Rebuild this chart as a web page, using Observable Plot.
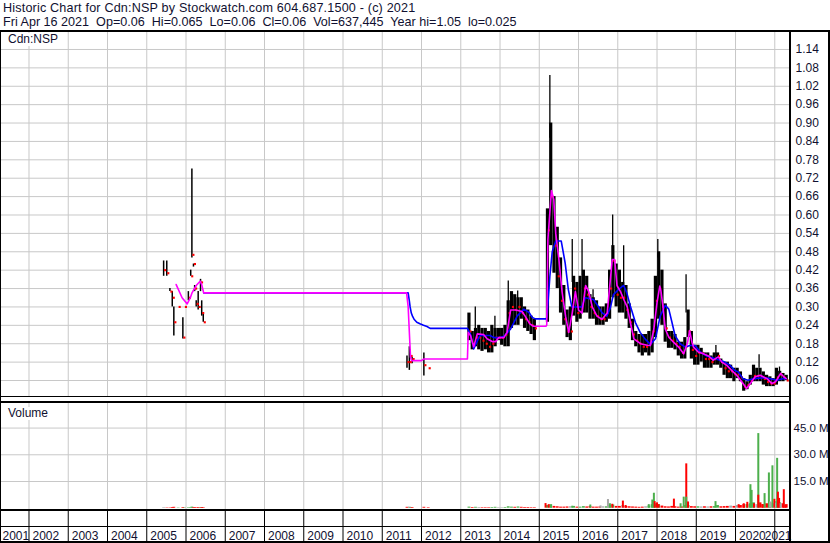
<!DOCTYPE html>
<html>
<head>
<meta charset="utf-8">
<script src="https://cdn.jsdelivr.net/npm/d3@7"></script>
<script src="https://cdn.jsdelivr.net/npm/@observablehq/plot@0.6"></script>
<style>
  html, body { margin: 0; padding: 0; background: #fff; }
  #chart { position: relative; width: 830px; height: 543px; overflow: hidden; background: #fff;
           font-family: Arial, "Liberation Sans", sans-serif; color: #101030; }
  .hdr { position: absolute; left: 3px; font-size: 12.6px; line-height: 14px; white-space: pre; }
  .ln { position: absolute; background: #000; }
  .lbl { position: absolute; font-size: 12px; line-height: 12px; background: #fff; padding: 0 3px 1px 4px; white-space: pre; }
</style>
</head>
<body>
<div id="chart"></div>
<script>
// ---------------- texts ----------------
const titleLine = "Historic Chart for Cdn:NSP by Stockwatch.com 604.687.1500 - (c) 2021";
const infoLine = "Fri Apr 16 2021  Op=0.06  Hi=0.065  Lo=0.06  Cl=0.06  Vol=637,445  Year hi=1.05  lo=0.025";
const symbolLabel = "Cdn:NSP";
const volumeLabel = "Volume";

// ---------------- axes ----------------
const priceTicks = [0.06,0.12,0.18,0.24,0.30,0.36,0.42,0.48,0.54,0.60,0.66,0.72,0.78,0.84,0.90,0.96,1.02,1.08,1.14];
const volumeTicks = [15, 30, 45]; // millions
const yearLabels = [2001,2002,2003,2004,2005,2006,2007,2008,2009,2010,2011,2012,2013,2014,2015,2016,2017,2018,2019,2020,2021];
const startYear = 2001.274, endYear = 2021.375; // visible date span (decimal years)

// ---------------- sparse trades (2005-2006, 2011-2012), decimal years ----------------
const sparseT     = [2005.43,2005.51,2005.59,2005.65,2005.69,2005.80,2005.92,2005.96,2006.06,2006.12,2006.15,2006.19,2006.22,2006.26,2006.31,2006.37,2006.40,2006.44, 2011.63,2011.69,2011.71,2011.76,2012.06,2012.17];
const sparseHi    = [0.45,0.45,0.36,0.35,0.30,0.30,0.265,0.30,0.35,0.42,0.75,0.44,0.37,0.32,0.35,0.39,0.32,0.28, 0.14,0.17,0.16,0.136,0.15,0.10];
const sparseLo    = [0.40,0.40,0.35,0.30,0.205,0.30,0.195,0.30,0.32,0.40,0.46,0.43,0.35,0.30,0.29,0.35,0.27,0.25, 0.10,0.093,0.14,0.115,0.075,0.10];
const sparseClose = [0.42,0.41,0.35,0.33,0.25,0.30,0.20,0.30,0.33,0.40,0.47,0.44,0.36,0.31,0.30,0.38,0.28,0.25, 0.12,0.12,0.14,0.13,0.11,0.10];
const sparseVol   = [0.3,0.2,0.2,0.4,0.5,0.2,0.4,0.2,0.3,0.3,0.6,0.3,0.3,0.2,0.4,0.3,0.4,0.3, 0.5,0.6,0.3,0.4,0.5,0.3];

// ---------------- monthly trading ranges 2013-2021 ----------------
const months = [
 "2013-03","2013-04","2013-05","2013-06","2013-07","2013-08","2013-09","2013-10","2013-11","2013-12",
 "2014-01","2014-02","2014-03","2014-04","2014-05","2014-06","2014-07","2014-08","2014-09","2014-10","2014-11",
 "2015-03","2015-04","2015-05","2015-06","2015-07","2015-08","2015-09","2015-10","2015-11","2015-12",
 "2016-01","2016-02","2016-03","2016-04","2016-05","2016-06","2016-07","2016-08","2016-09","2016-10","2016-11","2016-12",
 "2017-01","2017-02","2017-03","2017-04","2017-05","2017-06","2017-07","2017-08","2017-09","2017-10","2017-11","2017-12",
 "2018-01","2018-02","2018-03","2018-04","2018-05","2018-06","2018-07","2018-08","2018-09","2018-10","2018-11","2018-12",
 "2019-01","2019-02","2019-03","2019-04","2019-05","2019-06","2019-07","2019-08","2019-09","2019-10","2019-11","2019-12",
 "2020-01","2020-02","2020-03","2020-04","2020-05","2020-06","2020-07","2020-08","2020-09","2020-10","2020-11","2020-12",
 "2021-01","2021-02","2021-03","2021-04"];
const monthHi = [
 0.28,0.22,0.23,0.24,0.23,0.23,0.22,0.24,0.23,0.23,
 0.23,0.24,0.32,0.35,0.34,0.33,0.33,0.30,0.29,0.27,0.26,
 0.62,0.90,0.66,0.56,0.46,0.37,0.29,0.30,0.40,0.38,
 0.40,0.42,0.40,0.34,0.33,0.32,0.30,0.30,0.31,0.42,0.50,0.44,
 0.42,0.38,0.37,0.31,0.26,0.22,0.21,0.21,0.21,0.22,0.26,0.40,
 0.48,0.42,0.31,0.22,0.22,0.21,0.185,0.185,0.20,0.29,0.22,0.175,
 0.175,0.165,0.15,0.15,0.14,0.15,0.15,0.13,0.12,0.12,0.11,0.10,
 0.10,0.088,0.066,0.056,0.077,0.11,0.10,0.10,0.088,0.077,0.072,0.066,
 0.10,0.09,0.083,0.077];
const monthLo = [
 0.19,0.16,0.17,0.16,0.155,0.16,0.15,0.15,0.17,0.19,
 0.175,0.17,0.17,0.23,0.24,0.24,0.26,0.23,0.22,0.21,0.19,
 0.25,0.50,0.41,0.36,0.28,0.24,0.20,0.19,0.27,0.25,
 0.26,0.28,0.28,0.26,0.26,0.24,0.24,0.24,0.25,0.26,0.33,0.30,
 0.28,0.28,0.26,0.23,0.19,0.17,0.15,0.14,0.15,0.14,0.15,0.20,
 0.26,0.24,0.185,0.165,0.165,0.16,0.14,0.13,0.13,0.20,0.13,0.11,
 0.11,0.12,0.10,0.10,0.10,0.11,0.11,0.10,0.077,0.066,0.066,0.056,
 0.066,0.056,0.025,0.03,0.045,0.056,0.056,0.056,0.045,0.04,0.04,0.04,
 0.045,0.056,0.056,0.06];
const monthClose = [
 0.22,0.17,0.20,0.20,0.19,0.18,0.17,0.18,0.20,0.20,
 0.20,0.21,0.28,0.30,0.29,0.30,0.28,0.26,0.25,0.24,0.23,
 0.55,0.66,0.50,0.40,0.32,0.26,0.22,0.22,0.36,0.28,
 0.30,0.36,0.34,0.30,0.28,0.27,0.26,0.26,0.28,0.36,0.45,0.34,
 0.33,0.33,0.29,0.25,0.21,0.19,0.18,0.17,0.17,0.18,0.22,0.32,
 0.36,0.30,0.23,0.20,0.19,0.18,0.17,0.15,0.17,0.22,0.16,0.14,
 0.15,0.15,0.13,0.13,0.12,0.13,0.14,0.12,0.10,0.09,0.09,0.08,
 0.08,0.07,0.04,0.045,0.06,0.075,0.075,0.07,0.065,0.055,0.05,0.05,
 0.07,0.08,0.07,0.06];
const monthVol = [ // millions
 0.6,0.4,0.5,0.4,0.3,0.3,0.3,0.4,0.5,0.3,
 0.3,0.4,0.8,0.6,0.5,0.7,0.5,0.4,0.4,0.3,0.3,
 1.5,2.0,1.0,0.8,0.6,0.6,0.7,0.8,1.0,0.6,
 0.6,0.9,0.7,1.0,0.6,0.6,0.7,0.8,0.8,1.5,1.8,1.0,
 1.0,1.5,1.0,0.8,0.7,0.6,0.5,0.6,0.8,1.2,2.0,2.5,
 2.0,1.2,0.8,0.7,1.0,0.8,0.6,0.7,1.5,1.5,0.9,0.8,
 0.8,0.7,0.8,0.7,0.8,0.9,1.5,0.8,0.9,1.0,1.2,1.0,
 1.5,1.5,2.0,2.0,2.5,3.0,2.0,3.0,2.0,2.5,3.0,2.5,
 3.5,3.0,2.5,2.0];

// single-day spikes above the monthly ranges
const spikeT  = [2013.37,2013.87,2014.21,2014.45,2015.27,2015.84,2016.09,2016.37,2016.87,2017.15,2018.02,2018.74,2019.50,2020.60,2021.12];
const spikeLo = [0.22,0.22,0.30,0.32,0.85,0.38,0.40,0.30,0.48,0.36,0.46,0.28,0.14,0.10,0.08];
const spikeHi = [0.30,0.27,0.385,0.352,1.055,0.52,0.52,0.356,0.60,0.50,0.52,0.405,0.174,0.144,0.104];

// volume spikes (millions) and their colour class
const volSpikeT = [2015.16,2015.24,2015.30,2015.84,2016.30,2016.56,2016.75,2016.80,2016.86,2017.13,2017.20,2017.79,2017.88,2017.92,2017.94,2018.00,2018.04,2018.43,2018.60,2018.68,2018.745,2018.745,2018.79,2019.49,2020.08,2020.21,2020.30,2020.38,2020.41,2020.47,2020.58,2020.58,2020.68,2020.74,2020.85,2020.88,2020.94,2020.99,2021.03,2021.06,2021.08,2021.11,2021.15,2021.23,2021.27];
const volSpikeV = [2.6,2.0,1.2,1.1,1.8,1.3,4.9,2.5,2.2,4.0,1.5,2.0,4.6,8.4,3.7,3.0,2.0,5.1,2.5,6.2,24.9,6.2,3.5,3.7,2.0,2.5,3.3,13.2,10.0,2.5,41.9,7.3,2.0,8.2,19.8,3.5,23.8,5.0,3.0,28.0,9.0,5.5,2.5,10.4,1.5];
const volSpikeKind = ["down","down","up","up","up","flat","flat","up","down","down","down","up","up","up","down","down","down","down","up","up","down","up","down","up","down","down","down","up","up","down","up","down","down","up","up","flat","up","down","flat","up","down","down","flat","down","down"];

// moving averages [decimal year, price]
const maFast = [[2005.75,0.373],[2005.90,0.33],[2006.03,0.31],[2006.11,0.33],[2006.15,0.345],[2006.26,0.37],[2006.36,0.384],[2006.40,0.373],[2006.45,0.346],[2011.62,0.346],[2011.66,0.30],[2011.72,0.136],[2011.75,0.125],[2012.0,0.125],[2012.05,0.13],[2013.17,0.13],[2013.19,0.217],[2013.25,0.206],[2013.33,0.17],[2013.42,0.212],[2013.58,0.21],[2013.67,0.196],[2013.8,0.187],[2013.89,0.187],[2013.97,0.2],[2014.1,0.2],[2014.18,0.217],[2014.27,0.29],[2014.4,0.29],[2014.56,0.285],[2014.64,0.27],[2014.76,0.245],[2014.85,0.237],[2015.17,0.237],[2015.19,0.24],[2015.22,0.52],[2015.31,0.68],[2015.37,0.65],[2015.42,0.54],[2015.5,0.455],[2015.58,0.35],[2015.67,0.27],[2015.75,0.217],[2015.84,0.28],[2015.92,0.35],[2016.0,0.29],[2016.09,0.28],[2016.18,0.37],[2016.26,0.35],[2016.35,0.30],[2016.47,0.27],[2016.6,0.26],[2016.73,0.28],[2016.86,0.455],[2016.92,0.455],[2016.98,0.37],[2017.07,0.35],[2017.15,0.325],[2017.24,0.30],[2017.32,0.25],[2017.41,0.196],[2017.58,0.18],[2017.75,0.175],[2017.83,0.174],[2017.92,0.228],[2018.0,0.314],[2018.07,0.368],[2018.1,0.352],[2018.15,0.303],[2018.21,0.228],[2018.3,0.201],[2018.42,0.185],[2018.55,0.169],[2018.68,0.147],[2018.78,0.185],[2018.83,0.223],[2018.89,0.185],[2018.93,0.169],[2019.05,0.153],[2019.18,0.147],[2019.31,0.14],[2019.43,0.126],[2019.56,0.137],[2019.65,0.12],[2019.77,0.11],[2019.9,0.093],[2020.03,0.077],[2020.16,0.056],[2020.28,0.034],[2020.41,0.056],[2020.5,0.072],[2020.63,0.077],[2020.8,0.066],[2020.93,0.05],[2021.02,0.056],[2021.15,0.083],[2021.23,0.072],[2021.29,0.066]];
const maSlow = [[2006.45,0.346],[2011.66,0.346],[2011.69,0.32],[2011.71,0.30],[2011.74,0.28],[2011.77,0.27],[2011.81,0.26],[2011.88,0.25],[2011.96,0.245],[2012.05,0.24],[2012.14,0.236],[2012.22,0.23],[2013.17,0.23],[2013.25,0.21],[2013.33,0.163],[2013.46,0.2],[2013.5,0.207],[2013.75,0.207],[2013.84,0.2],[2014.0,0.2],[2014.1,0.204],[2014.27,0.228],[2014.44,0.271],[2014.61,0.293],[2014.74,0.282],[2014.82,0.266],[2014.9,0.261],[2015.18,0.261],[2015.2,0.27],[2015.27,0.40],[2015.33,0.48],[2015.42,0.515],[2015.56,0.515],[2015.66,0.443],[2015.74,0.357],[2015.83,0.30],[2016.08,0.30],[2016.17,0.33],[2016.38,0.324],[2016.47,0.308],[2016.6,0.281],[2016.72,0.27],[2016.81,0.297],[2016.89,0.34],[2017.02,0.357],[2017.15,0.37],[2017.23,0.346],[2017.32,0.303],[2017.45,0.249],[2017.57,0.217],[2017.7,0.195],[2017.83,0.178],[2017.96,0.196],[2018.08,0.27],[2018.21,0.305],[2018.3,0.293],[2018.38,0.25],[2018.46,0.206],[2018.59,0.18],[2018.72,0.169],[2018.84,0.174],[2018.97,0.174],[2019.1,0.153],[2019.27,0.14],[2019.48,0.131],[2019.6,0.126],[2019.73,0.12],[2019.86,0.11],[2019.98,0.093],[2020.07,0.088],[2020.19,0.066],[2020.32,0.061],[2020.45,0.066],[2020.72,0.069],[2020.89,0.066],[2021.06,0.061],[2021.19,0.066],[2021.29,0.066]];

// ---------------- build tables ----------------
const monthT = months.map(s => { const [y, m] = s.split("-").map(Number); return y + (m - 0.5) / 12; });
const sparseBars = sparseT.map((t, i) => ({t, hi: sparseHi[i], lo: sparseLo[i], cl: sparseClose[i], v: sparseVol[i]}));
const monthBars = monthT.map((t, i) => ({t, hi: monthHi[i], lo: monthLo[i], cl: monthClose[i], v: monthVol[i]}));
const allBars = sparseBars.concat(monthBars);
allBars.forEach((d, i) => {
  const prev = i > 0 ? allBars[i - 1].cl : d.cl;
  d.kind = d.cl > prev ? "up" : d.cl < prev ? "down" : "flat";
});
const spikes = spikeT.map((t, i) => ({t, lo: spikeLo[i], hi: spikeHi[i]}));
const volSpikes = volSpikeT.map((t, i) => ({t, v: volSpikeV[i], kind: volSpikeKind[i]}));
const yearTicks = yearLabels.filter(y => y > startYear && y < endYear);
const kindColor = {up: "#4caf4c", down: "#ff0000", flat: "#a8a8a8"};

const FONT = "Arial, 'Liberation Sans', sans-serif";
const TXT = "#101030";
const GRID = "#c8c8c8";
const baseStyle = {background: "transparent", fontFamily: FONT, fontSize: "12px", color: TXT, overflow: "visible"};
const priceDomain = [0.0078, 1.1954];
const volDomain = [-0.73, 58.8];

const chart = document.getElementById("chart");
function place(el, top) {
  el.style.position = "absolute";
  el.style.left = "0px";
  el.style.top = top + "px";
  chart.appendChild(el);
  return el;
}
function text(cls, css, s) {
  const d = document.createElement("div");
  d.className = cls; d.textContent = s; Object.assign(d.style, css);
  chart.appendChild(d); return d;
}

text("hdr", {top: "1px", letterSpacing: "0.18px"}, titleLine);
text("hdr", {top: "15px"}, infoLine);

// ---------------- price panel ----------------
const pricePlot = Plot.plot({
  width: 830, height: 364,
  marginTop: 0, marginBottom: 0, marginLeft: 0, marginRight: 41,
  style: baseStyle,
  x: {type: "linear", domain: [startYear, endYear], axis: null},
  y: {type: "linear", domain: priceDomain},
  marks: [
    Plot.ruleX(yearTicks, {x: d => d, y1: priceDomain[0], y2: priceDomain[1], stroke: GRID, strokeWidth: 1}),
    Plot.ruleY(priceTicks, {y: d => d, x1: startYear, x2: endYear, stroke: GRID, strokeWidth: 1}),
    Plot.ruleX(monthBars, {x: "t", y1: "lo", y2: "hi", stroke: "#000", strokeWidth: 3.2}),
    Plot.ruleX(spikes, {x: "t", y1: "lo", y2: "hi", stroke: "#000", strokeWidth: 1.3}),
    Plot.ruleX(sparseBars, {x: "t", y1: "lo", y2: "hi", stroke: "#000", strokeWidth: 1.5}),
    Plot.dot(allBars, {x: "t", y: "cl", dx: 1.5, symbol: "square", r: 1.2, fill: "#ff0000", stroke: null}),
    Plot.line(maSlow, {x: d => d[0], y: d => d[1], stroke: "#0000ff", strokeWidth: 1.6}),
    Plot.line(maFast, {x: d => d[0], y: d => d[1], stroke: "#ff00ff", strokeWidth: 1.6}),
    Plot.axisY(priceTicks, {anchor: "right", tickSize: 0, tickPadding: 6, tickFormat: d => d.toFixed(2), label: null})
  ]
});
place(pricePlot, 32);

// ---------------- volume panel ----------------
const volPlot = Plot.plot({
  width: 830, height: 106,
  marginTop: 0, marginBottom: 0, marginLeft: 0, marginRight: 41,
  style: baseStyle,
  x: {type: "linear", domain: [startYear, endYear], axis: null},
  y: {type: "linear", domain: volDomain},
  marks: [
    Plot.ruleX(yearTicks, {x: d => d, y1: volDomain[0], y2: volDomain[1], stroke: GRID, strokeWidth: 1}),
    Plot.ruleY(volumeTicks, {y: d => d, x1: startYear, x2: endYear, stroke: GRID, strokeWidth: 1}),
    Plot.ruleX(allBars, {x: "t", y1: 0, y2: "v", stroke: d => kindColor[d.kind], strokeWidth: 2.8}),
    Plot.ruleX(volSpikes, {x: "t", y1: 0, y2: "v", stroke: d => kindColor[d.kind], strokeWidth: 2}),
    Plot.axisY(volumeTicks, {anchor: "right", tickSize: 0, tickPadding: 4, fontSize: 11.5, tickFormat: d => d.toFixed(1) + " M", label: null})
  ]
});
place(volPlot, 403);

// ---------------- date rows ----------------
const midLabels = yearLabels.filter(y => y > startYear && y < 2021);
const datePlot = Plot.plot({
  width: 830, height: 30,
  marginTop: 0, marginBottom: 0, marginLeft: 0, marginRight: 41,
  style: baseStyle,
  x: {type: "linear", domain: [startYear, endYear], axis: null},
  y: {type: "linear", domain: [0, 30], range: [30, 0], axis: null},
  marks: [
    Plot.ruleX(yearTicks, {x: d => d, y1: 0, y2: 30, stroke: "#000", strokeWidth: 1}),
    Plot.text(midLabels, {x: d => d, y: 2, text: d => String(d), textAnchor: "start", dx: 3.5, fill: TXT, fontSize: 12, lineAnchor: "bottom"}),
    Plot.text([yearLabels[0]], {x: () => startYear, y: 2, text: d => String(d), textAnchor: "start", dx: 2, fill: TXT, fontSize: 12, lineAnchor: "bottom"}),
    Plot.text([yearLabels[yearLabels.length - 1]], {x: () => endYear, y: 2, text: d => String(d), textAnchor: "end", dx: 2, fill: TXT, fontSize: 12, lineAnchor: "bottom"})
  ]
});
place(datePlot, 511);

// ---------------- panel labels ----------------
text("lbl", {left: "4px", top: "33px"}, symbolLabel);
text("lbl", {left: "4px", top: "407px"}, volumeLabel);

// ---------------- frame lines ----------------
const lines = [
  {left: "0px", top: "30px", width: "830px", height: "2px"},
  {left: "0px", top: "396px", width: "790px", height: "1px"},
  {left: "0px", top: "401px", width: "790px", height: "2px"},
  {left: "0px", top: "509px", width: "790px", height: "2px"},
  {left: "0px", top: "526px", width: "790px", height: "1px"},
  {left: "0px", top: "541px", width: "830px", height: "2px"},
  {left: "0px", top: "30px", width: "1px", height: "513px"},
  {left: "789px", top: "30px", width: "2px", height: "513px"},
  {left: "828px", top: "30px", width: "2px", height: "513px"}
];
lines.forEach(c => { const d = document.createElement("div"); d.className = "ln"; Object.assign(d.style, c); chart.appendChild(d); });
</script>
</body>
</html>
